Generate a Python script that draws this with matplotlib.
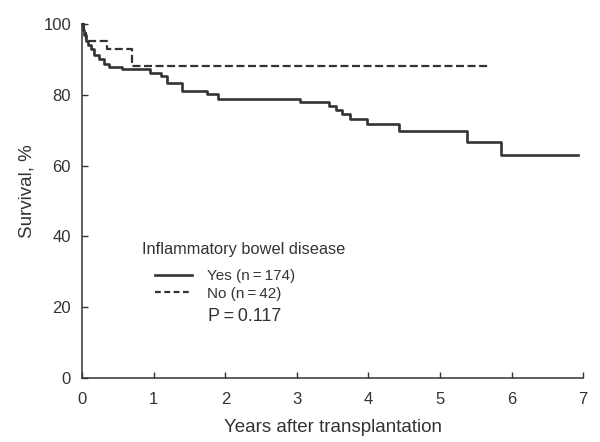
import matplotlib.pyplot as plt
from matplotlib.lines import Line2D

# -------------------- DATA --------------------
yes_times = [0, 0.01, 0.03, 0.05, 0.08, 0.12, 0.17, 0.23, 0.30, 0.38, 0.55,
             0.95, 1.10, 1.18, 1.40, 1.75, 1.90, 3.05, 3.45, 3.55, 3.63,
             3.74, 3.98, 4.42, 5.37, 5.85, 6.93]
yes_surv = [100, 98.3, 97.1, 95.4, 94.2, 93.1, 91.4, 90.2, 88.9, 88.0, 87.4,
            86.3, 85.3, 83.5, 81.2, 80.2, 78.8, 78.1, 77.0, 75.9, 74.5,
            73.3, 71.7, 69.8, 66.8, 62.9, 62.9]

no_times = [0, 0.02, 0.06, 0.34, 0.70, 5.70]
no_surv = [100, 97.6, 95.2, 92.9, 88.1, 88.1]

x_ticks = [0, 1, 2, 3, 4, 5, 6, 7]
y_ticks = [0, 20, 40, 60, 80, 100]

legend_title = 'Inflammatory bowel disease'
legend_labels = ['Yes (n\u2009=\u2009174)', 'No (n\u2009=\u200942)']
p_text = 'P\u2009=\u20090.117'

# -------------------- PLOT --------------------
plt.rcParams['font.family'] = ['Liberation Sans', 'DejaVu Sans']
ink = '#333333'
dash = (0, (3.6, 1.6))

fig = plt.figure(figsize=(6, 4.42), dpi=100)
ax = fig.add_axes([0.137, 0.145, 0.835, 0.80])

ax.step(yes_times, yes_surv, where='post', color=ink, lw=1.9, clip_on=False)
ax.step(no_times, no_surv, where='post', color=ink, lw=1.6,
        linestyle=dash, clip_on=False)

ax.set_xlim(0, 7)
ax.set_ylim(0, 100)
ax.set_xticks(x_ticks)
ax.set_yticks(y_ticks)
ax.tick_params(direction='in', length=4, width=1, colors=ink, labelsize=12)
ax.tick_params(axis='x', pad=10)
ax.tick_params(axis='y', pad=8)
for side in ['top', 'right']:
    ax.spines[side].set_visible(False)
for side in ['left', 'bottom']:
    ax.spines[side].set_color(ink)
    ax.spines[side].set_linewidth(1.1)

ax.set_xlabel('Years after transplantation', fontsize=13.5, color=ink, labelpad=9)
ax.set_ylabel('Survival, %', fontsize=13.5, color=ink)
ax.yaxis.set_label_coords(-0.094, 0.527)

# legend title, legend rows and p value
ax.text(0.119, 0.363, legend_title, transform=ax.transAxes, fontsize=11.8,
        color=ink, va='center')

handles = [Line2D([], [], color=ink, lw=1.9),
           Line2D([], [], color=ink, lw=1.6, linestyle=(0, (2.6, 1.6)))]
leg = ax.legend(handles, legend_labels, frameon=False,
                loc='center left', bbox_to_anchor=(0.146, 0.263),
                fontsize=11, handlelength=2.4, handletextpad=1.0,
                labelspacing=0.25, borderpad=0, borderaxespad=0)
for t in leg.get_texts():
    t.set_color(ink)

ax.text(0.251, 0.173, p_text, transform=ax.transAxes, fontsize=13,
        color=ink, va='center')

fig.savefig('out.png', dpi=100)
